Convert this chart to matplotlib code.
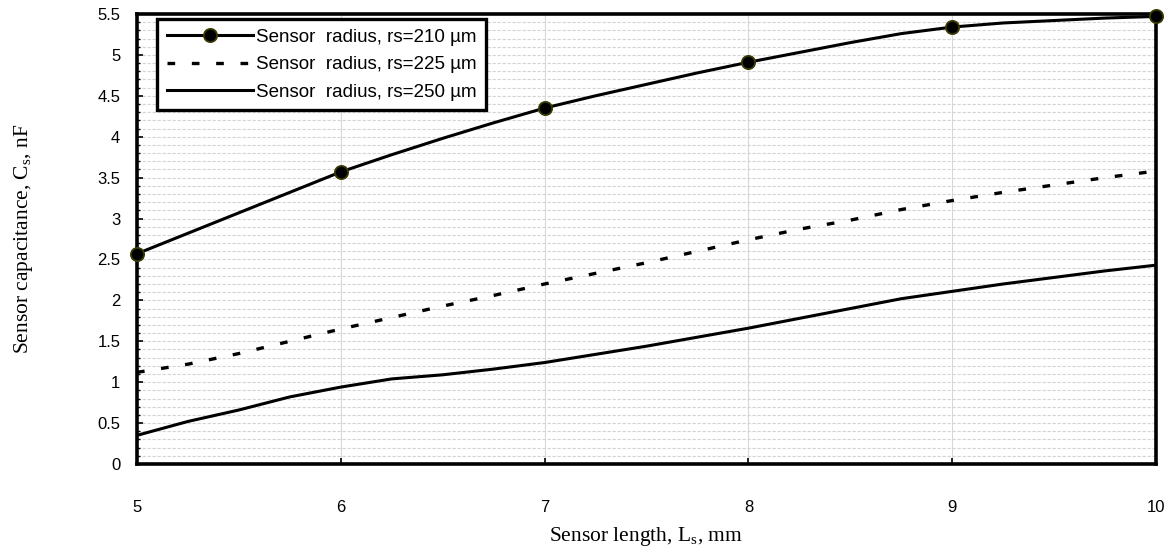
import matplotlib
matplotlib.use("Agg")
import matplotlib.pyplot as plt
from matplotlib.ticker import MultipleLocator

length_mm = [5.0, 5.25, 5.5, 5.75, 6.0, 6.25, 6.5, 6.75, 7.0, 7.25, 7.5, 7.75,
             8.0, 8.25, 8.5, 8.75, 9.0, 9.25, 9.5, 9.75, 10.0]
cap_r210 = [2.57, 2.82, 3.07, 3.32, 3.57, 3.78, 3.98, 4.17, 4.35, 4.50, 4.64, 4.78,
            4.91, 5.03, 5.15, 5.26, 5.34, 5.39, 5.42, 5.45, 5.47]
cap_r225 = [1.12, 1.22, 1.35, 1.50, 1.65, 1.79, 1.93, 2.06, 2.20, 2.33, 2.46, 2.60,
            2.74, 2.87, 2.98, 3.11, 3.22, 3.32, 3.41, 3.50, 3.58]
cap_r250 = [0.35, 0.52, 0.66, 0.82, 0.94, 1.04, 1.09, 1.16, 1.24, 1.34, 1.44, 1.55,
            1.66, 1.78, 1.90, 2.02, 2.11, 2.20, 2.28, 2.36, 2.43]
marker_every = [0, 4, 8, 12, 16, 20]
labels = ["Sensor  radius, rs=210 µm", "Sensor  radius, rs=225 µm",
          "Sensor  radius, rs=250 µm"]

fig = plt.figure(figsize=(11.67, 5.48), dpi=100)
ax = fig.add_axes([0.1174, 0.1533, 0.8732, 0.8212])

ax.plot(length_mm, cap_r210, color="black", lw=2.2, marker="o", markevery=marker_every,
        markersize=9.5, markerfacecolor="black", markeredgecolor="#3a3a00",
        markeredgewidth=1.3, label=labels[0], clip_on=False, zorder=5)
ax.plot(length_mm, cap_r225, color="black", lw=2.4, dashes=(2.3, 5.0),
        label=labels[1], zorder=4)
ax.plot(length_mm, cap_r250, color="black", lw=2.2, label=labels[2], zorder=4)

ax.set_xlim(5, 10)
ax.set_ylim(0, 5.5)
ax.xaxis.set_major_locator(MultipleLocator(1))
ax.yaxis.set_minor_locator(MultipleLocator(0.1))

ax.grid(which="minor", axis="y", color="#d4d4d4", lw=0.8, ls=(0, (3, 1.5)))
ax.grid(which="major", axis="y", color="#d4d4d4", lw=0.8, ls=(0, (3, 1.5)))
ax.grid(which="major", axis="x", color="#d8d8d8", lw=0.8)
ax.set_axisbelow(True)

for s in ax.spines.values():
    s.set_linewidth(2.6)
    s.set_color("black")

yticklabels = ["0", "0.5", "1", "1.5", "2", "2.5", "3", "3.5", "4", "4.5", "5", "5.5"]
ax.set_yticks([i * 0.5 for i in range(12)])
ax.set_yticklabels(yticklabels)
ax.tick_params(axis="y", which="major", direction="in", length=4, width=1.2,
               pad=12, labelsize=12)
ax.tick_params(axis="y", which="minor", direction="in", length=2, width=1.0)
ax.tick_params(axis="x", which="major", direction="in", length=4, width=1.2,
               pad=26, labelsize=12)
for t in ax.get_xticklabels() + ax.get_yticklabels():
    t.set_fontfamily("Liberation Sans")

ax.set_xlabel(r"Sensor length, L$_\mathregular{s}$, mm", fontfamily="Liberation Serif",
              fontsize=15.5, labelpad=7)
ax.set_ylabel(r"Sensor capacitance, C$_\mathregular{s}$, nF", fontfamily="Liberation Serif",
              fontsize=15.5, labelpad=45)

leg = ax.legend(loc="upper left", bbox_to_anchor=(0.02, 0.988), frameon=True,
                fancybox=False, edgecolor="black", framealpha=1,
                prop={"family": "Liberation Sans", "size": 13.5},
                handlelength=4.6, handletextpad=0.15, labelspacing=0.55,
                borderpad=0.5, borderaxespad=0.0)
leg.get_frame().set_linewidth(2.4)

fig.savefig("out.png", dpi=100)
